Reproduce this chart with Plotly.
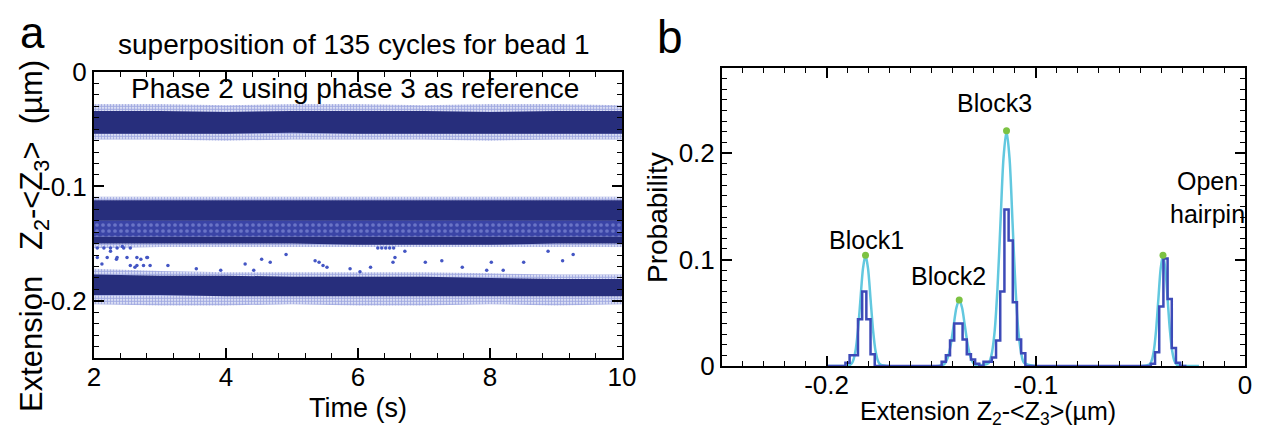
import plotly.graph_objects as go

W, H = 1265, 436
FONT = "Liberation Sans, Arial, sans-serif"

# ---------------- Panel a data (band envelopes) ----------------
band_t = [2, 3, 4, 5, 6, 7, 8, 9, 10]
# open-hairpin band (top)
top_outer_hi = [-0.028, -0.028, -0.029, -0.028, -0.028, -0.029, -0.028, -0.028, -0.029]
top_core_hi = [-0.034, -0.034, -0.035, -0.034, -0.034, -0.034, -0.035, -0.034, -0.034]
top_core_lo = [-0.054, -0.054, -0.054, -0.053, -0.054, -0.054, -0.054, -0.054, -0.054]
top_outer_lo = [-0.059, -0.059, -0.060, -0.059, -0.059, -0.059, -0.060, -0.059, -0.059]
# block 2 / block 3 band (middle)
mid_outer_hi = [-0.109, -0.109, -0.109, -0.109, -0.109, -0.109, -0.109, -0.109, -0.109]
mid_core_hi = [-0.112, -0.112, -0.112, -0.112, -0.112, -0.112, -0.112, -0.112, -0.112]
mid_core_lo = [-0.130, -0.130, -0.130, -0.130, -0.130, -0.130, -0.130, -0.130, -0.130]
mid_line_hi = [-0.144, -0.144, -0.144, -0.144, -0.144, -0.144, -0.144, -0.144, -0.144]
mid_line_lo = [-0.150, -0.150, -0.150, -0.150, -0.151, -0.151, -0.151, -0.150, -0.150]
mid_outer_lo = [-0.154, -0.153, -0.153, -0.153, -0.153, -0.153, -0.153, -0.153, -0.153]
# block 1 band (bottom)
bot_outer_hi = [-0.172, -0.174, -0.175, -0.175, -0.175, -0.175, -0.176, -0.177, -0.177]
bot_core_hi = [-0.177, -0.178, -0.178, -0.179, -0.179, -0.179, -0.180, -0.181, -0.181]
bot_core_lo = [-0.195, -0.195, -0.196, -0.196, -0.196, -0.196, -0.196, -0.196, -0.196]
bot_outer_lo = [-0.203, -0.204, -0.204, -0.203, -0.204, -0.204, -0.203, -0.204, -0.203]

# sparse points between the middle and bottom bands
gap_t = [2.71, 2.81, 2.62, 2.43, 2.25, 2.12, 2.34, 4.29, 4.54, 4.67, 4.91, 5.35, 5.41,
         5.47, 5.53, 5.88, 6.19, 6.53, 6.56, 6.71, 7.02, 7.27, 7.58, 8.02, 8.20, 8.51,
         8.88, 9.10, 9.26, 4.42, 6.03, 7.95, 3.92, 3.55, 3.12,
         6.30, 6.36, 6.42, 6.48, 6.54,
         2.05, 2.15, 2.25, 2.35, 2.45, 2.55,
         2.05, 2.20, 2.35, 2.50, 2.65, 2.80,
         2.55, 2.65, 2.75, 2.85]
gap_z = [-0.1636, -0.1622, -0.1706, -0.1525, -0.1567, -0.1678, -0.1636, -0.1678, -0.1636,
         -0.1664, -0.1595, -0.1650, -0.1664, -0.1692, -0.1706, -0.1719, -0.1706, -0.1664,
         -0.1622, -0.1567, -0.1664, -0.1650, -0.1706, -0.1664, -0.1733, -0.1664, -0.1567,
         -0.1650, -0.1595, -0.1733, -0.1747, -0.1733, -0.1733, -0.1719, -0.1692,
         -0.1539, -0.1539, -0.1539, -0.1539, -0.1539,
         -0.1539, -0.1539, -0.1539, -0.1539, -0.1539, -0.1539,
         -0.1622, -0.1622, -0.1622, -0.1622, -0.1622, -0.1622,
         -0.1692, -0.1692, -0.1692, -0.1692]

# ---------------- Panel b data ----------------
hist_x = [-0.200, -0.192, -0.190, -0.188, -0.186, -0.184, -0.182, -0.180, -0.178, -0.176,
          -0.146, -0.144, -0.142, -0.140, -0.138, -0.136, -0.134, -0.132, -0.130, -0.128,
          -0.126, -0.124, -0.122, -0.120, -0.118, -0.116, -0.114, -0.112, -0.110, -0.108,
          -0.106, -0.104,
          -0.046, -0.044, -0.042, -0.040, -0.038, -0.036, -0.034, -0.032, -0.030, -0.028]
hist_p = [0, 0, 0.003, 0.010, 0.010, 0.044, 0.070, 0.044, 0.011, 0,
          0, 0.004, 0.010, 0.024, 0.040, 0.040, 0.025, 0.011, 0.006, 0.002,
          0, 0.004, 0.004, 0.008, 0.024, 0.070, 0.147, 0.118, 0.060, 0.025,
          0.012, 0,
          0, 0.002, 0.013, 0.056, 0.101, 0.063, 0.017, 0.003, 0, 0]

fit1_x = [-0.1886, -0.1874, -0.1862, -0.1850, -0.1838, -0.1826, -0.1814, -0.1802, -0.1790,
          -0.1778, -0.1766, -0.1754, -0.1742]
fit1_p = [0.0012, 0.0046, 0.0141, 0.0338, 0.0631, 0.0918, 0.104, 0.0918, 0.0631, 0.0338,
          0.0141, 0.0046, 0.0012]
fit2_x = [-0.1447, -0.14335, -0.1420, -0.14065, -0.1393, -0.13795, -0.1366, -0.13525,
          -0.1339, -0.13255, -0.1312, -0.12985, -0.1285]
fit2_p = [0.0007, 0.0027, 0.0084, 0.0201, 0.0376, 0.0547, 0.062, 0.0547, 0.0376, 0.0201,
          0.0084, 0.0027, 0.0007]
fit3_x = [-0.1227, -0.12125, -0.1198, -0.11835, -0.1169, -0.11545, -0.1140, -0.11255,
          -0.1111, -0.10965, -0.1082, -0.10675, -0.1053]
fit3_p = [0.0025, 0.0097, 0.0299, 0.0718, 0.1340, 0.1950, 0.221, 0.1950, 0.1340, 0.0718,
          0.0299, 0.0097, 0.0025]
fit4_x = [-0.0458, -0.0447, -0.0436, -0.0425, -0.0414, -0.0403, -0.0392, -0.0381, -0.0370,
          -0.0359, -0.0348, -0.0337, -0.0326]
fit4_p = [0.0012, 0.0046, 0.0141, 0.0338, 0.0631, 0.0918, 0.104, 0.0918, 0.0631, 0.0338,
          0.0141, 0.0046, 0.0012]
fit_base_x = [-0.200, -0.022]

peak_x = [-0.1814, -0.1366, -0.1140, -0.0392]
peak_p = [0.104, 0.062, 0.221, 0.104]
peak_names = ["Block1", "Block2", "Block3", "Open<br>hairpin"]

# tick positions / labels
a_xticks = [2, 4, 6, 8, 10]
a_xlabels = ["2", "4", "6", "8", "10"]
a_yticks = [0, -0.1, -0.2]
a_ylabels = ["0", "-0.1", "-0.2"]
a_ymid = [-0.05, -0.15, -0.25]
b_xticks = [-0.2, -0.1, 0]
b_xlabels = ["-0.2", "-0.1", "0"]
b_xmid = [-0.25, -0.15, -0.05]
b_yticks = [0, 0.1, 0.2]
b_ylabels = ["0", "0.1", "0.2"]
b_ymid = [0.05, 0.15, 0.25]

# ---------------- styling ----------------
NAVY = "#272e7c"
MID = "#3a44a6"
LIGHT = "#4456c4"
CYAN = "#62c8df"
HIST = "#3d4ab8"
GREEN = "#7cc242"

# the page places the figure 8 px in from the window's top-left corner
OFF = 8


def px_x(v):
    return (v - OFF) / W


def px_y(v):
    return 1 - (v - OFF) / H


fig = go.Figure()


def band(lo, hi, color, pattern=None):
    xs = band_t + band_t[::-1]
    ys = hi + lo[::-1]
    kw = dict(x=xs, y=ys, mode="lines", fill="toself", line=dict(width=0),
              hoverinfo="skip", showlegend=False, xaxis="x", yaxis="y")
    if pattern:
        kw["fillpattern"] = pattern
        kw["fillcolor"] = "white"
    else:
        kw["fillcolor"] = color
    fig.add_trace(go.Scatter(**kw))


dots = dict(shape=".", fgcolor=LIGHT, bgcolor="white", size=3, solidity=0.7)
mixdots = dict(shape=".", fgcolor="#9aa4e6", bgcolor=MID, size=6, solidity=0.3)

band(top_outer_lo, top_outer_hi, None, dots)
band(mid_outer_lo, mid_outer_hi, None, dots)
band(bot_outer_lo, bot_outer_hi, None, dots)
band(mid_line_hi, mid_core_lo, None, mixdots)
band(top_core_lo, top_core_hi, NAVY)
band(mid_core_lo, mid_core_hi, NAVY)
band(mid_line_lo, mid_line_hi, NAVY)
band(bot_core_lo, bot_core_hi, NAVY)

fig.add_trace(go.Scatter(x=gap_t, y=gap_z, mode="markers",
                         marker=dict(size=3.5, color=LIGHT), showlegend=False,
                         xaxis="x", yaxis="y"))

# panel b
fit_x = [fit_base_x[0]] + fit1_x + fit2_x + fit3_x + fit4_x + [fit_base_x[1]]
fit_p = [0] + fit1_p + fit2_p + fit3_p + fit4_p + [0]
fig.add_trace(go.Scatter(x=fit_x, y=fit_p, mode="lines",
                         line=dict(color=CYAN, width=2.5, shape="spline", smoothing=0.8),
                         showlegend=False, xaxis="x2", yaxis="y2"))
fig.add_trace(go.Scatter(x=hist_x, y=hist_p, mode="lines",
                         line=dict(color=HIST, width=2.5, shape="hvh"),
                         showlegend=False, xaxis="x2", yaxis="y2"))
fig.add_trace(go.Scatter(x=peak_x, y=peak_p, mode="markers",
                         marker=dict(color=GREEN, size=7), showlegend=False,
                         xaxis="x2", yaxis="y2"))

axis_common = dict(showline=True, linecolor="black", linewidth=2, mirror="ticks",
                   ticks="inside", ticklen=10, tickwidth=1.6, tickcolor="black",
                   showgrid=False, zeroline=False, automargin=False,
                   tickfont=dict(family=FONT, size=26, color="black"))
minor_common = dict(ticks="inside", ticklen=5, tickwidth=1.3, tickcolor="black")
# companion axes that only carry the unlabeled medium ticks
mid_common = dict(showline=False, mirror="ticks", ticks="inside", ticklen=10,
                  tickwidth=1.6, tickcolor="black", showticklabels=False,
                  showgrid=False, zeroline=False, automargin=False)

A_X = [px_x(94), px_x(622)]
A_Y = [px_y(358), px_y(72)]
B_X = [px_x(722), px_x(1245)]
B_Y = [px_y(366), px_y(68)]

fig.update_layout(
    width=W, height=H, margin=dict(l=0, r=0, t=0, b=0, pad=0, autoexpand=False),
    paper_bgcolor="white", plot_bgcolor="white",
    font=dict(family=FONT, color="black"),
    xaxis=dict(domain=A_X, range=[2, 10], anchor="y",
               tickvals=a_xticks, ticktext=a_xlabels,
               minor=dict(dtick=0.4, tick0=2, **minor_common),
               ticklabelstandoff=-5, **axis_common),
    yaxis=dict(domain=A_Y, range=[-0.25, 0], anchor="x",
               tickvals=a_yticks, ticktext=a_ylabels,
               minor=dict(dtick=0.01, tick0=0, **minor_common),
               **axis_common),
    yaxis3=dict(overlaying="y", range=[-0.25, 0], anchor="x", side="left",
                tickvals=a_ymid, **mid_common),
    xaxis2=dict(domain=B_X, range=[-0.25, 0], anchor="y2",
                tickvals=b_xticks, ticktext=b_xlabels,
                minor=dict(dtick=0.01, tick0=0, **minor_common),
                ticklabelstandoff=-5, **axis_common),
    xaxis4=dict(overlaying="x2", range=[-0.25, 0], anchor="y2", side="bottom",
                tickvals=b_xmid, **mid_common),
    yaxis2=dict(domain=B_Y, range=[0, 0.28], anchor="x2",
                tickvals=b_yticks, ticktext=b_ylabels,
                minor=dict(dtick=0.01, tick0=0, **minor_common),
                **axis_common),
    yaxis4=dict(overlaying="y2", range=[0, 0.28], anchor="x2", side="left",
                tickvals=b_ymid, **mid_common),
)


def note(text, x, y, size, angle=0):
    fig.add_annotation(text=text, x=px_x(x), y=px_y(y), xref="paper", yref="paper",
                       showarrow=False, textangle=angle, xanchor="center", yanchor="middle",
                       font=dict(family=FONT, size=size, color="black"))


note("a", 32, 32, 44)
note("b", 670, 37, 46)
note("superposition of 135 cycles for bead 1", 354, 45, 28)
note("Phase 2 using phase 3 as reference", 355, 89, 28)
note("Time (s)", 358, 408, 27)
note("Extension&nbsp;&nbsp; Z<sub>2</sub>-&lt;Z<sub>3</sub>&gt;&nbsp; (µm)", 34, 236, 31, -90)
note("Probability", 657, 218, 28, -90)
note("Extension Z<sub>2</sub>-&lt;Z<sub>3</sub>&gt;(µm)", 988, 413, 25)

label_pos = [(866, 240), (948, 276), (994, 103), (1207, 198)]
for name, (lx, ly) in zip(peak_names, label_pos):
    note(name, lx, ly, 25)

fig.write_html("out.html")
